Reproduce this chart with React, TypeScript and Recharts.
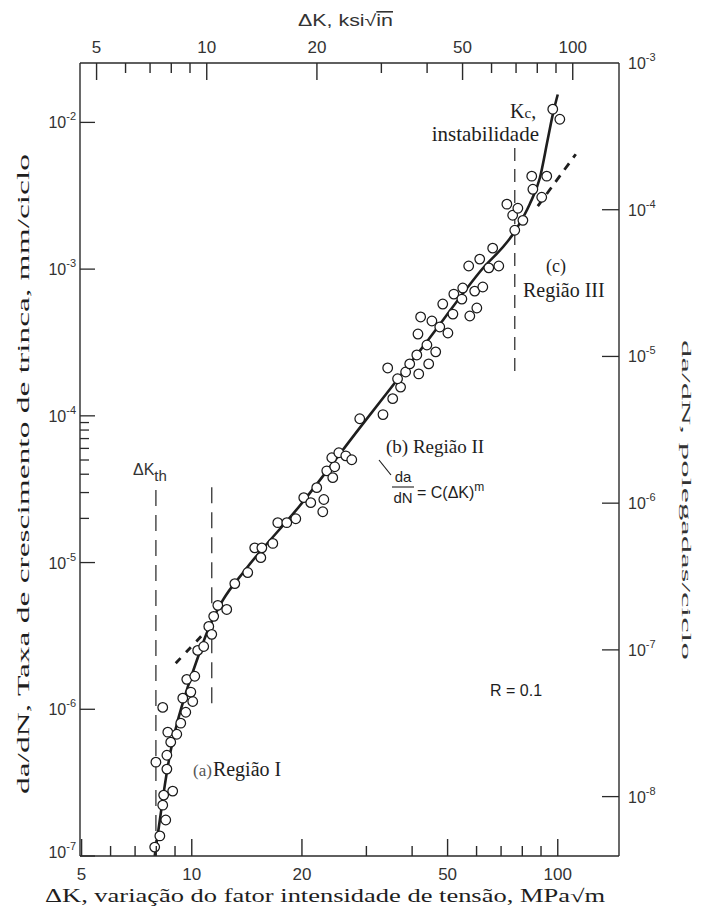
import React from 'react';
import { ComposedChart, XAxis, YAxis, Scatter, Line } from 'recharts';

// ---------- data (ΔK in MPa√m, da/dN in mm/ciclo) ----------
const regionIPoints = [
  { k: 7.92, m: 1.15e-7 }, { k: 8.18, m: 1.37e-7 }, { k: 8.49, m: 1.76e-7 }, { k: 8.33, m: 2.22e-7 },
  { k: 8.38, m: 2.6e-7 }, { k: 8.87, m: 2.77e-7 }, { k: 8.55, m: 3.91e-7 }, { k: 7.98, m: 4.36e-7 },
  { k: 8.55, m: 4.86e-7 }, { k: 8.76, m: 5.97e-7 }, { k: 8.6, m: 6.98e-7 }, { k: 9.1, m: 6.76e-7 },
  { k: 9.33, m: 8.04e-7 }, { k: 9.63, m: 9.55e-7 }, { k: 8.33, m: 1.03e-6 }, { k: 9.45, m: 1.19e-6 },
  { k: 10.06, m: 1.13e-6 }, { k: 9.94, m: 1.31e-6 }, { k: 9.69, m: 1.6e-6 }, { k: 10.19, m: 1.68e-6 },
  { k: 10.38, m: 2.52e-6 }, { k: 10.78, m: 2.68e-6 }, { k: 11.13, m: 3.67e-6 }, { k: 11.34, m: 3.24e-6 },
  { k: 11.48, m: 4.3e-6 }, { k: 11.78, m: 5.11e-6 }, { k: 12.46, m: 4.79e-6 },
];

const regionIIPoints = [
  { k: 13.11, m: 7.19e-6 }, { k: 14.22, m: 8.55e-6 }, { k: 14.86, m: 1.26e-5 }, { k: 15.54, m: 1.26e-5 },
  { k: 15.44, m: 1.08e-5 }, { k: 16.65, m: 1.35e-5 }, { k: 17.18, m: 1.87e-5 }, { k: 18.18, m: 1.87e-5 },
  { k: 19.24, m: 1.99e-5 }, { k: 20.23, m: 2.77e-5 }, { k: 21.14, m: 2.56e-5 }, { k: 21.95, m: 3.24e-5 },
  { k: 22.95, m: 2.69e-5 }, { k: 22.8, m: 2.22e-5 }, { k: 23.38, m: 4.22e-5 }, { k: 24.58, m: 4.5e-5 },
  { k: 24.28, m: 3.79e-5 }, { k: 24.13, m: 5.18e-5 }, { k: 25.22, m: 5.6e-5 }, { k: 26.35, m: 5.34e-5 },
  { k: 27.36, m: 5.02e-5 }, { k: 28.77, m: 9.55e-5 }, { k: 33.3, m: 1.02e-4 }, { k: 35.4, m: 1.31e-4 },
  { k: 37.2, m: 1.57e-4 }, { k: 36.5, m: 1.79e-4 }, { k: 38.4, m: 1.99e-4 }, { k: 34.3, m: 2.12e-4 },
  { k: 39.4, m: 2.26e-4 }, { k: 41.7, m: 1.93e-4 }, { k: 44.4, m: 2.26e-4 }, { k: 41.2, m: 2.6e-4 },
  { k: 43.9, m: 3.04e-4 }, { k: 46.4, m: 2.73e-4 }, { k: 41.5, m: 3.61e-4 }, { k: 50.1, m: 3.67e-4 },
  { k: 47.6, m: 4.03e-4 }, { k: 42.2, m: 4.72e-4 }, { k: 45.3, m: 4.43e-4 }, { k: 51.7, m: 4.94e-4 },
  { k: 57.5, m: 4.79e-4 }, { k: 60.1, m: 5.43e-4 }, { k: 48.5, m: 5.78e-4 }, { k: 52.0, m: 6.76e-4 },
  { k: 55.0, m: 7.43e-4 }, { k: 54.7, m: 6.25e-4 }, { k: 59.3, m: 7.08e-4 }, { k: 62.4, m: 7.55e-4 },
  { k: 57.1, m: 1.05e-3 }, { k: 61.2, m: 1.17e-3 }, { k: 64.8, m: 1.02e-3 }, { k: 66.4, m: 1.39e-3 },
  { k: 69.0, m: 1.05e-3 },
];

const regionIIIPoints = [
  { k: 76.3, m: 1.84e-3 }, { k: 80.3, m: 2.15e-3 }, { k: 75.3, m: 2.33e-3 }, { k: 72.6, m: 2.77e-3 },
  { k: 77.8, m: 2.6e-3 }, { k: 84.9, m: 4.3e-3 }, { k: 93.3, m: 4.3e-3 }, { k: 85.5, m: 3.5e-3 },
  { k: 90.4, m: 3.09e-3 }, { k: 96.9, m: 1.23e-2 }, { k: 101.3, m: 1.05e-2 },
];

const fitCurve = [
  { k: 7.92, m: 1.0e-7 }, { k: 8.18, m: 1.76e-7 }, { k: 8.44, m: 3.04e-7 }, { k: 8.71, m: 4.86e-7 },
  { k: 9.16, m: 8.41e-7 }, { k: 9.69, m: 1.35e-6 }, { k: 10.32, m: 2.15e-6 }, { k: 11.06, m: 3.44e-6 },
  { k: 12.15, m: 5.52e-6 }, { k: 13.96, m: 8.83e-6 }, { k: 19.73, m: 2.44e-5 }, { k: 28.77, m: 8.28e-5 },
  { k: 41.97, m: 2.77e-4 }, { k: 61.2, m: 9.55e-4 }, { k: 77.3, m: 1.9e-3 }, { k: 83.8, m: 2.77e-3 },
  { k: 89.3, m: 4.16e-3 }, { k: 93.9, m: 7.67e-3 }, { k: 96.9, m: 1.13e-2 }, { k: 100.0, m: 1.55e-2 },
];

const parisLow = [{ k: 9.04, m: 2.06e-6 }, { k: 10.99, m: 3.45e-6 }];
const parisHigh = [{ k: 88.2, m: 2.69e-3 }, { k: 112.0, m: 6.07e-3 }];

const thresholdLine = [{ k: 7.98, m: 1.0e-7 }, { k: 7.98, m: 3.61e-5 }];
const regionIBoundary = [{ k: 11.34, m: 1.1e-6 }, { k: 11.34, m: 3.61e-5 }];
const kcLine = [{ k: 76.3, m: 2.02e-4 }, { k: 76.3, m: 6.87e-3 }];

const mpaTicks = [5, 6, 7, 8, 9, 10, 20, 30, 40, 50, 60, 70, 80, 90, 100];
const mpaLabels = [5, 10, 20, 50, 100];
const ksiTicks = [5, 6, 7, 8, 9, 10, 20, 30, 40, 50, 60, 70, 80, 90, 100];
const ksiLabels = [5, 10, 20, 50, 100];
const mmTicks = [1e-7, 1e-6, 1e-5, 2e-5, 3e-5, 4e-5, 5e-5, 6e-5, 7e-5, 8e-5, 9e-5, 1e-4, 1e-3, 1e-2];
const inTicks = [1e-8, 1e-7, 1e-6, 1e-5, 1e-4, 1e-3];

// ---------- layout / style ----------
const W = 685;
const H = 900;
const MARGIN = { top: 15, right: 14, bottom: 12, left: 12 };
const X_AXIS_H = 40;
const Y_AXIS_W = 60;
const PLOT_LEFT = MARGIN.left + Y_AXIS_W;
const PLOT_RIGHT = W - MARGIN.right - Y_AXIS_W;
const PLOT_TOP = MARGIN.top + X_AXIS_H;
const PLOT_BOTTOM = H - MARGIN.bottom - X_AXIS_H;
const MPA_PER_KSI = 1.0988;
const MM_PER_IN = 25.4;
const MPA_DOMAIN = [4.95, 147];
const KSI_DOMAIN = [4.95 / MPA_PER_KSI, 147 / MPA_PER_KSI];
const MM_DOMAIN = [1e-7, 1e-3 * MM_PER_IN];
const IN_DOMAIN = [1e-7 / MM_PER_IN, 1e-3];

const SANS = "'Liberation Sans', Arial, Helvetica, sans-serif";
const SERIF = "'Liberation Serif', 'Times New Roman', serif";
const INK = '#1e1e1e';
const TICK = '#2a2a2a';
const AXIS = { stroke: TICK, strokeWidth: 1.4 };

// same log mapping as the horizontal axes (used only for the inward tick marks)
const logX = (v: number, d: number[]) =>
  PLOT_LEFT + ((Math.log10(v) - Math.log10(d[0])) / (Math.log10(d[1]) - Math.log10(d[0]))) * (PLOT_RIGHT - PLOT_LEFT);

const isDecade = (v: number) => Math.abs(Math.log10(v) - Math.round(Math.log10(v))) < 1e-6;
const expOf = (v: number) => String(Math.round(Math.log10(v)));

const BottomTick = (p: any) => {
  const v = p.payload.value;
  if (!mpaLabels.includes(v)) return <g />;
  return (
    <text x={p.x} y={PLOT_BOTTOM + 24} textAnchor="middle" fontFamily={SANS} fontSize={17} fill="#333">
      {v}
    </text>
  );
};

const TopTick = (p: any) => {
  const v = p.payload.value;
  if (!ksiLabels.includes(v)) return <g />;
  return (
    <text x={p.x} y={PLOT_TOP - 10} textAnchor="middle" fontFamily={SANS} fontSize={17} fill="#333">
      {v}
    </text>
  );
};

const LeftTick = (p: any) => {
  const v = p.payload.value;
  const major = isDecade(v);
  const bottom = Math.abs(v - 1e-7) < 1e-12;
  return (
    <g>
      <line x1={p.x} x2={p.x + (major ? 15 : 9)} y1={p.y} y2={p.y} stroke={TICK} strokeWidth={1.3} />
      {major && (
        <text x={p.x - 4} y={p.y + (bottom ? 2 : 6)} textAnchor="end" fontFamily={SANS} fill="#333">
          <tspan fontSize={16}>10</tspan>
          <tspan fontSize={11} dy={-8}>{expOf(v)}</tspan>
        </text>
      )}
    </g>
  );
};

const RightTick = (p: any) => {
  const v = p.payload.value;
  const top = Math.abs(v - 1e-3) < 1e-9;
  return (
    <g>
      {!top && <line x1={p.x} x2={p.x - 17} y1={p.y} y2={p.y} stroke={TICK} strokeWidth={1.3} />}
      <text x={p.x + 9} y={p.y + 6} textAnchor="start" fontFamily={SANS} fill="#333">
        <tspan fontSize={16}>10</tspan>
        <tspan fontSize={11} dy={-8}>{expOf(v)}</tspan>
      </text>
    </g>
  );
};

const Ring = (p: any) => (
  <circle cx={p.cx} cy={p.cy} r={4.8} fill="#fff" stroke="#1a1a1a" strokeWidth={1.25} />
);

export default function App() {
  return (
    <div style={{ position: 'relative', width: W, height: H, background: '#fff' }}>
      <ComposedChart width={W} height={H} margin={MARGIN}>
        <XAxis
          xAxisId="mpa" dataKey="k" type="number" scale="log" domain={MPA_DOMAIN} allowDataOverflow
          ticks={mpaTicks} interval={0} orientation="bottom" height={X_AXIS_H} tickSize={0} tickMargin={0}
          tickLine={false} axisLine={AXIS} tick={(p: any) => <BottomTick {...p} />}
        />
        <XAxis
          xAxisId="ksi" dataKey="k" type="number" scale="log" domain={KSI_DOMAIN} allowDataOverflow
          ticks={ksiTicks} interval={0} orientation="top" height={X_AXIS_H} tickSize={0} tickMargin={0}
          tickLine={false} axisLine={AXIS} tick={(p: any) => <TopTick {...p} />}
        />
        <YAxis
          yAxisId="mm" dataKey="m" type="number" scale="log" domain={MM_DOMAIN} allowDataOverflow
          ticks={mmTicks} interval={0} orientation="left" width={Y_AXIS_W} tickSize={0} tickMargin={0}
          tickLine={false} axisLine={AXIS} tick={(p: any) => <LeftTick {...p} />}
        />
        <YAxis
          yAxisId="in" type="number" scale="log" domain={IN_DOMAIN} allowDataOverflow
          ticks={inTicks} interval={0} orientation="right" width={Y_AXIS_W} tickSize={0} tickMargin={0}
          tickLine={false} axisLine={AXIS} tick={(p: any) => <RightTick {...p} />}
        />

        <Line xAxisId="mpa" yAxisId="mm" data={thresholdLine} dataKey="m" type="linear" stroke="#333"
          strokeWidth={1.3} strokeDasharray="16 9" dot={false} activeDot={false} isAnimationActive={false} />
        <Line xAxisId="mpa" yAxisId="mm" data={regionIBoundary} dataKey="m" type="linear" stroke="#333"
          strokeWidth={1.3} strokeDasharray="16 9" dot={false} activeDot={false} isAnimationActive={false} />
        <Line xAxisId="mpa" yAxisId="mm" data={kcLine} dataKey="m" type="linear" stroke="#333"
          strokeWidth={1.3} strokeDasharray="13 8" dot={false} activeDot={false} isAnimationActive={false} />

        <Scatter xAxisId="mpa" yAxisId="mm" data={regionIPoints} shape={Ring} isAnimationActive={false} />
        <Scatter xAxisId="mpa" yAxisId="mm" data={regionIIPoints} shape={Ring} isAnimationActive={false} />
        <Scatter xAxisId="mpa" yAxisId="mm" data={regionIIIPoints} shape={Ring} isAnimationActive={false} />

        <Line xAxisId="mpa" yAxisId="mm" data={fitCurve} dataKey="m" type="monotone" stroke={INK}
          strokeWidth={2.6} dot={false} activeDot={false} isAnimationActive={false} />
        <Line xAxisId="mpa" yAxisId="mm" data={parisLow} dataKey="m" type="linear" stroke={INK}
          strokeWidth={2.8} strokeDasharray="7 8" dot={false} activeDot={false} isAnimationActive={false} />
        <Line xAxisId="mpa" yAxisId="mm" data={parisHigh} dataKey="m" type="linear" stroke={INK}
          strokeWidth={2.8} strokeDasharray="8 7" dot={false} activeDot={false} isAnimationActive={false} />
      </ComposedChart>

      <svg width={W} height={H} style={{ position: 'absolute', left: 0, top: 0, pointerEvents: 'none' }}>
        {/* inward tick marks of the bottom (MPa√m) and top (ksi√in) axes */}
        {mpaTicks.map((v) => {
          const x = logX(v, MPA_DOMAIN);
          const len = mpaLabels.includes(v) ? 17 : 10;
          return <rect key={`b${v}`} x={x - 0.7} y={PLOT_BOTTOM - len} width={1.4} height={len} fill={TICK} />;
        })}
        {ksiTicks.map((v) => {
          const x = logX(v, KSI_DOMAIN);
          const len = ksiLabels.includes(v) ? 17 : 10;
          return <rect key={`t${v}`} x={x - 0.7} y={PLOT_TOP} width={1.4} height={len} fill={TICK} />;
        })}

        {/* axis titles */}
        <text x={290} y={18} fontFamily={SANS} fontSize={16} fill="#333" textLength={95} lengthAdjust="spacingAndGlyphs">
          ΔK, ksi√<tspan style={{ textDecoration: 'overline' }}>in</tspan>
        </text>
        <text x={37} y={894} fontFamily={SERIF} fontSize={18} fill={INK} textLength={560} lengthAdjust="spacingAndGlyphs">
          ΔK, variação do fator intensidade de tensão, MPa√m
        </text>
        <text transform="translate(15,466) rotate(-90)" textAnchor="middle" dominantBaseline="central"
          fontFamily={SERIF} fontSize={16} fill={INK} textLength={640} lengthAdjust="spacingAndGlyphs">
          da/dN, Taxa de crescimento de trinca, mm/ciclo
        </text>
        <text transform="translate(678,492) rotate(90)" textAnchor="middle" dominantBaseline="central"
          fontFamily={SERIF} fontSize={13} fill="#333" textLength={320} lengthAdjust="spacingAndGlyphs">
          da/dN, polegadas/ciclo
        </text>

        {/* annotations */}
        <text x={125} y={467} fontFamily={SANS} fontSize={16} fill="#333">
          ΔK<tspan dy={6} fontSize={15}>th</tspan>
        </text>
        <text x={185} y={768} fontFamily={SERIF} fill={INK}>
          <tspan fontSize={17} fill="#555">(a)</tspan>
          <tspan fontSize={20} dx={1}>Região I</tspan>
        </text>
        <text x={378} y={445} fontFamily={SERIF} fontSize={19} fill={INK}>(b) Região II</text>
        <line x1={371} y1={452} x2={383} y2={467} stroke={INK} strokeWidth={1.2} />
        <text x={395} y={474} textAnchor="middle" fontFamily={SANS} fontSize={15} fill={INK}>da</text>
        <line x1={384} x2={406} y1={479} y2={479} stroke={INK} strokeWidth={1.1} />
        <text x={395} y={495} textAnchor="middle" fontFamily={SANS} fontSize={15} fill={INK}>dN</text>
        <text x={409} y={490} fontFamily={SANS} fontSize={16} fill={INK}>
          = C(ΔK)<tspan dy={-7} fontSize={12}>m</tspan>
        </text>
        <text x={482} y={688} fontFamily={SANS} fontSize={16} fill={INK}>R = 0.1</text>
        <text x={548} y={264} textAnchor="middle" fontFamily={SERIF} fontSize={18} fill={INK}>(c)</text>
        <text x={515} y={289} fontFamily={SERIF} fontSize={20} fill={INK}>Região III</text>
        <text x={502} y={110} fontFamily={SERIF} fontSize={20} fill={INK}>
          K<tspan fontSize={15}>c</tspan>,
        </text>
        <text x={531} y={133} textAnchor="end" fontFamily={SERIF} fontSize={21} fill={INK}>instabilidade</text>
      </svg>
    </div>
  );
}
